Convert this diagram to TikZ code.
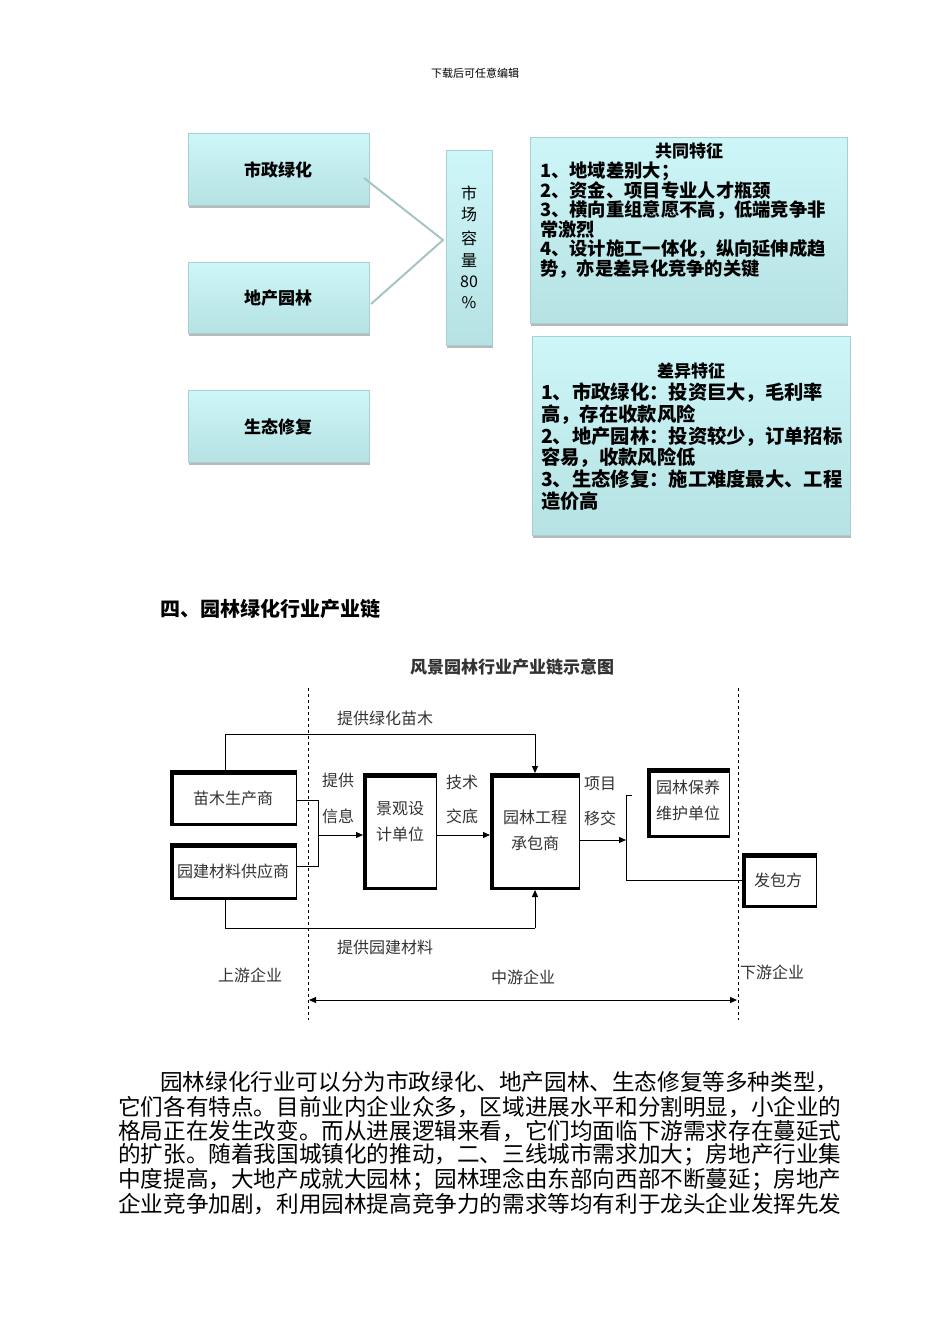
\documentclass[tikz,border=0pt]{standalone}
\usepackage{fontspec}
\setmainfont{Noto Sans CJK SC}
\usetikzlibrary{arrows.meta}
\definecolor{cyanA}{HTML}{CDF6F8}
\definecolor{cyanB}{HTML}{B6E2E4}
\tikzset{
 lbl/.style={font=\fontsize{17}{17}\selectfont\bfseries},
 feat/.style={anchor=west,font=\fontsize{18.3}{18.3}\selectfont\bfseries,inner sep=0pt},
 featb/.style={anchor=west,font=\fontsize{19.3}{19.3}\selectfont\bfseries,inner sep=0pt},
 cbl/.style={font=\fontsize{16}{16}\selectfont,text=black!80,inner sep=0pt},
 arr/.style={-{Triangle[length=7pt,width=6pt]},line width=1pt},
 ln/.style={line width=0.8pt},
 para/.style={anchor=west,inner sep=0pt,font=\fontsize{22.6}{22.6}\selectfont}
}
\begin{document}
\begin{tikzpicture}[x=1pt,y=-1pt]
\useasboundingbox (0,0) rectangle (950,1344);
\node[font=\fontsize{11}{11}\selectfont] (hdr) at (475,73) {下载后可任意编辑};
\foreach \a/\b/\c/\d in {188/133/369/205, 188/262/369/333, 188/390/369/462, 446/150/492/345, 530/137/847/323, 532/336/850/535}{
 \fill[gray!55] (\a+1,\b+2) rectangle (\c+1,\d+3);
 \shade[top color=cyanA,bottom color=cyanB] (\a,\b) rectangle (\c,\d);
 \draw[cyanB!80!gray,line width=0.5pt] (\a,\b) rectangle (\c,\d);
}
\node[lbl] (szlh) at (278,170) {市政绿化};
\node[lbl] (dcyl) at (278,298) {地产园林};
\node[lbl] (stxf) at (278,427) {生态修复};
\coordinate (v) at (443,240);
\coordinate (sa) at (364,178);
\coordinate (sb) at (371,304);
\draw[cyanB!70!gray,line width=2pt] (sa) -- (v) -- (sb);
\foreach \t/\y in {市/193,场/215,容/238,量/260,80/282,\%/303}
 \node[font=\fontsize{16}{16}\selectfont,inner sep=0pt] at (469,\y) {\t};
\node[lbl] (gt) at (689,151) {共同特征};
\foreach \t/\y in {1、地域差别大；/171, 2、资金、项目专业人才瓶颈/190.5, 3、横向重组意愿不高，低端竞争非/210, 常激烈/229.5, 4、设计施工一体化，纵向延伸成趋/249, 势，亦是差异化竞争的关键/268.5}
 \node[feat] at (540,\y) {\t};
\node[lbl] (cy) at (691,371) {差异特征};
\foreach \t/\y in {1、市政绿化：投资巨大，毛利率/393, 高，存在收款风险/415, 2、地产园林：投资较少，订单招标/436.5, 容易，收款风险低/458, 3、生态修复：施工难度最大、工程/479.5, 造价高/501}
 \node[featb] at (541,\y) {\t};
\node[anchor=west,inner sep=0pt,font=\fontsize{20}{20}\selectfont\bfseries] (h4) at (160,609) {四、园林绿化行业产业链};
\node[font=\fontsize{17}{17}\selectfont\bfseries,text=black!80] (title) at (512,667) {风景园林行业产业链示意图};
\draw[dashed,line width=0.6pt] (308,688) -- (308,1020);
\draw[dashed,line width=0.6pt] (738,688) -- (738,1020);
\foreach \n/\a/\b/\c/\d in {mm/170/770/297/826, yj/170/843/297/900, jg/363/773/437/890, yl/490/773/580/890, by/647/768/730/838, fb/742/853/817/908}{
 \fill[black] (\a,\b) rectangle (\c,\d);
 \draw[line width=1pt,fill=white] (\a+3,\b+4) rectangle (\c-1,\d-3);
 \coordinate (\n) at ({(\a+\c)/2},{(\b+\d)/2});
}
\node[cbl] at (233,798) {苗木生产商};
\node[cbl] at (233,871) {园建材料供应商};
\node[cbl,align=center,font=\fontsize{16}{26}\selectfont] at (400,822) {景观设\\计单位};
\node[cbl,align=center,font=\fontsize{16}{26}\selectfont] at (535,830) {园林工程\\承包商};
\node[cbl,align=center,font=\fontsize{16}{26}\selectfont] at (688,800) {园林保养\\维护单位};
\node[cbl] at (778,880) {发包方};
\coordinate (t1) at (225,734);
\coordinate (t2) at (535,734);
\coordinate (b1) at (225,928);
\coordinate (b2) at (535,928);
\draw[ln] (225,770) -- (t1) -- (t2);
\draw[arr] (t2) -- (535,773);
\draw[ln] (225,900) -- (b1) -- (b2);
\draw[arr] (b2) -- (535,890);
\node[cbl] at (385,718) {提供绿化苗木};
\node[cbl] at (385,947) {提供园建材料};
\draw[ln] (297,800) -- (318,800) -- (318,866) -- (297,866);
\draw[arr] (318,835) -- (363,835);
\draw[arr] (437,835) -- (490,835);
\draw[arr] (580,840) -- (626,840);
\draw[ln] (632,795) -- (626,795) -- (626,880) -- (742,880);
\node[cbl] at (338,780) {提供};
\node[cbl] at (338,816) {信息};
\node[cbl] at (462,782) {技术};
\node[cbl] at (462,816) {交底};
\node[cbl] at (600,784) {项目};
\node[cbl] at (600,818) {移交};
\node[cbl] at (250,975) {上游企业};
\node[cbl] at (523,977) {中游企业};
\node[cbl] at (772,972) {下游企业};
\draw[{Triangle[length=7pt,width=6pt]}-{Triangle[length=7pt,width=6pt]},line width=1pt] (309,1000) -- (737,1000);
\node[para] at (160,1082) {园林绿化行业可以分为市政绿化、地产园林、生态修复等多种类型，};
\node[para] at (118,1107) {它们各有特点。目前业内企业众多，区域进展水平和分割明显，小企业的};
\node[para] at (118,1131) {格局正在发生改变。而从进展逻辑来看，它们均面临下游需求存在蔓延式};
\node[para] at (118,1155) {的扩张。随着我国城镇化的推动，二、三线城市需求加大；房地产行业集};
\node[para] at (118,1180) {中度提高，大地产成就大园林；园林理念由东部向西部不断蔓延；房地产};
\node[para] at (118,1204) {企业竞争加剧，利用园林提高竞争力的需求等均有利于龙头企业发挥先发};
\end{tikzpicture}
\end{document}
